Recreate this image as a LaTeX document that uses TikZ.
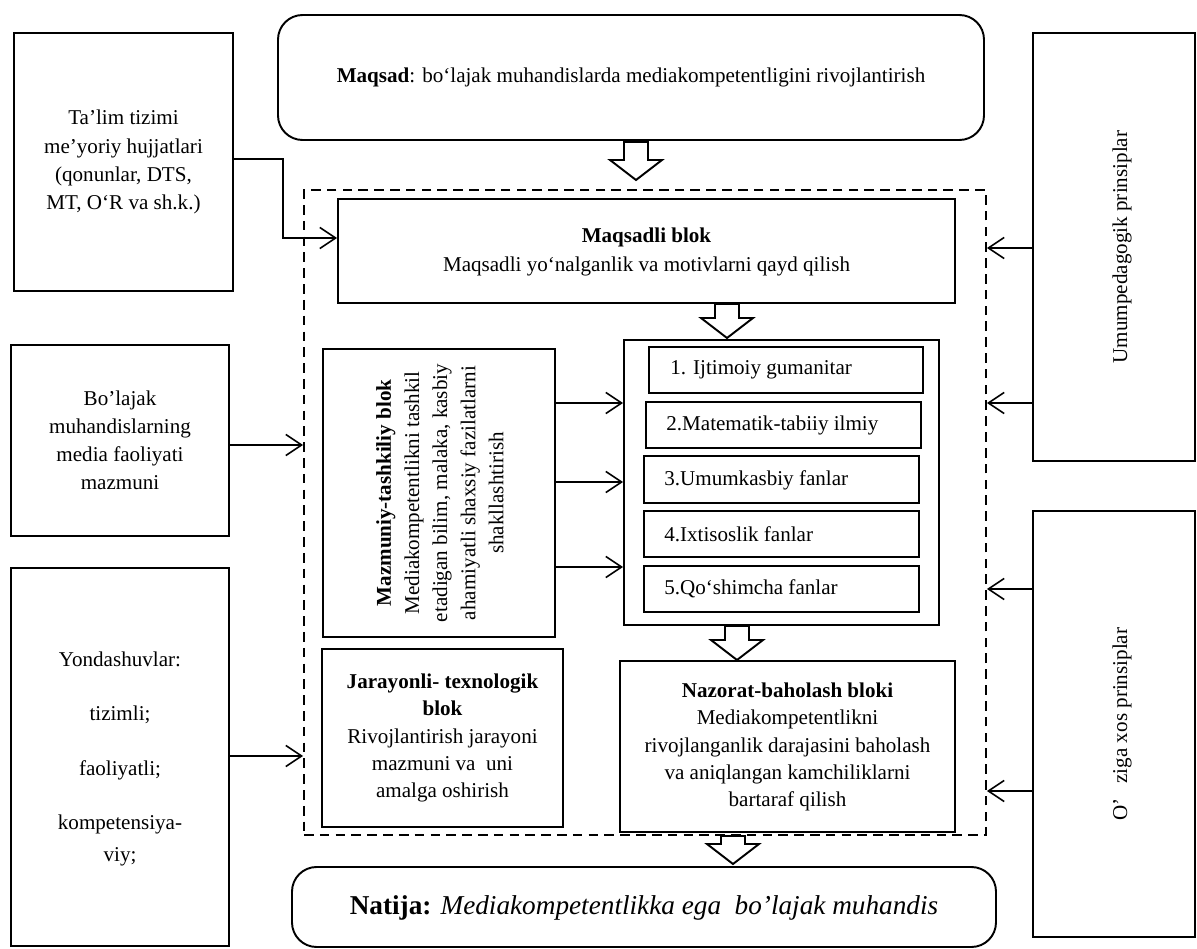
\documentclass[tikz,border=0pt]{standalone}
\usepackage{fontspec}
\setmainfont{Liberation Serif}
\usetikzlibrary{fit,arrows.meta,calc}
\newcommand\blockarrow[3]{%
  \draw[blk] (#1-12,#2) -- (#1-12,#3-20) -- (#1-26,#3-20) -- (#1,#3) -- (#1+26,#3-20) -- (#1+12,#3-20) -- (#1+12,#2) -- cycle;}
\begin{document}
\begin{tikzpicture}[x=0.02cm,y=-0.02cm,
  box/.style={draw,line width=1.1pt,inner sep=0pt},
  thinbox/.style={draw,line width=0.6pt,inner sep=0pt},
  txt/.style={font=\fontsize{12}{16}\selectfont,align=center,inner sep=0pt},
  arr/.style={line width=0.9pt,-{Straight Barb[length=9pt,width=12pt,line width=0.9pt]}},
  blk/.style={draw,line width=1.1pt,fill=white},
  frame/.style={draw,line width=1.1pt,dash pattern=on 5.5pt off 3.5pt,inner sep=0pt},
]
\useasboundingbox (0,0) rectangle (1197,949);

% left boxes
\node[box,fit={(14,33)(233,291)}] (A) {};
\node[txt] (At) at (A.center) {Ta’lim tizimi\\me’yoriy hujjatlari\\(qonunlar, DTS,\\MT, O‘R va sh.k.)};
\node[box,fit={(11,345)(229,536)}] (B) {};
\node[txt] (Bt) at (B.center) {Bo’lajak\\muhandislarning\\media faoliyati\\mazmuni};
\node[box,fit={(11,568)(229,946)}] (C) {};
\node[txt] (Ct) at (120,759) {Yondashuvlar:\\[15pt]tizimli;\\[15pt]faoliyatli;\\[15pt]kompetensiya-\\[2.5pt]viy;};

% goal
\node[box,rounded corners=14pt,fit={(278,15)(984,140)}] (M) {};
\node[txt] (Mt) at (631,77) {\textbf{Maqsad}: bo‘lajak muhandislarda mediakompetentligini rivojlantirish};

% dashed frame
\node[frame,fit={(304,190)(986,835)}] (F) {};

% Maqsadli blok
\node[box,fit={(338,199)(955,303)}] (Mb) {};
\node[txt,font=\fontsize{12}{16.5}\selectfont] (Mbt) at (646.5,251.5) {\textbf{Maqsadli blok}\\Maqsadli yo‘nalganlik va motivlarni qayd qilish};

% column of subjects
\node[box,fit={(624,340)(939,625)}] (Col) {};
\node[thinbox,fit={(649,347)(923,393)}] (S1) {};
\node[txt,anchor=west] (S1t) at (670,370) {1. Ijtimoiy gumanitar};
\node[thinbox,fit={(646,402)(921,448)}] (S2) {};
\node[txt,anchor=west] (S2t) at (666,425) {2.Matematik-tabiiy ilmiy};
\node[thinbox,fit={(644,456)(919,503)}] (S3) {};
\node[txt,anchor=west] (S3t) at (664,480) {3.Umumkasbiy fanlar};
\node[thinbox,fit={(644,511)(919,557)}] (S4) {};
\node[txt,anchor=west] (S4t) at (664,534) {4.Ixtisoslik fanlar};
\node[thinbox,fit={(644,566)(919,612)}] (S5) {};
\node[txt,anchor=west] (S5t) at (664,589) {5.Qo‘shimcha fanlar};

% Mazmuniy
\node[box,fit={(323,349)(555,637)}] (Z) {};
\node[txt,rotate=90] (Zt) at (440,493) {\textbf{Mazmuniy-tashkiliy blok}\\Mediakompetentlikni tashkil\\etadigan bilim, malaka, kasbiy\\ahamiyatli shaxsiy fazilatlarni\\shakllashtirish};

% Jarayonli
\node[box,fit={(322,649)(563,827)}] (J) {};
\node[txt,font=\fontsize{12}{15.6}\selectfont] (Jt) at (J.center) {\textbf{Jarayonli- texnologik}\\\textbf{blok}\\Rivojlantirish jarayoni\\mazmuni va\ \ uni\\amalga oshirish};

% Nazorat
\node[box,fit={(620,661)(955,832)}] (N) {};
\node[txt,font=\fontsize{12}{15.6}\selectfont] (Nt) at (787.5,747) {\textbf{Nazorat-baholash bloki}\\Mediakompetentlikni\\rivojlanganlik darajasini baholash\\va aniqlangan kamchiliklarni\\bartaraf qilish};

% Natija
\node[box,rounded corners=14pt,fit={(292,867)(996,947)}] (R) {};
\node[txt,font=\fontsize{15.5}{18}\selectfont] (Rt) at (644,908) {\textbf{Natija:} \textit{Mediakompetentlikka ega\ \ bo’lajak muhandis}};

% right boxes
\node[box,fit={(1033,33)(1195,461)}] (U) {};
\node[txt,rotate=90] (Ut) at (1122,247) {Umumpedagogik prinsiplar};
\node[box,fit={(1033,511)(1195,937)}] (O) {};
\node[txt,rotate=90] (Ot) at (1122,724) {O’\hspace{0.7em}ziga xos prinsiplar};

% connectors
\draw[arr] (A.east |- 0,159) -- (283,159) -- (283,238) -- (Mb.west |- 0,238);
\draw[arr] (B.east |- 0,445) -- (F.west |- 0,445);
\draw[arr] (C.east |- 0,756) -- (F.west |- 0,756);
\draw[arr] (Z.east |- 0,403) -- (Col.west |- 0,403);
\draw[arr] (Z.east |- 0,482) -- (Col.west |- 0,482);
\draw[arr] (Z.east |- 0,567) -- (Col.west |- 0,567);
\draw[arr] (U.west |- 0,248) -- (F.east |- 0,248);
\draw[arr] (U.west |- 0,403) -- (F.east |- 0,403);
\draw[arr] (O.west |- 0,589) -- (F.east |- 0,589);
\draw[arr] (O.west |- 0,791) -- (F.east |- 0,791);

% block arrows
\blockarrow{636}{142}{180}
\blockarrow{727}{304}{338}
\blockarrow{737}{626}{660}
\blockarrow{733}{836}{864}
\end{tikzpicture}
\end{document}
